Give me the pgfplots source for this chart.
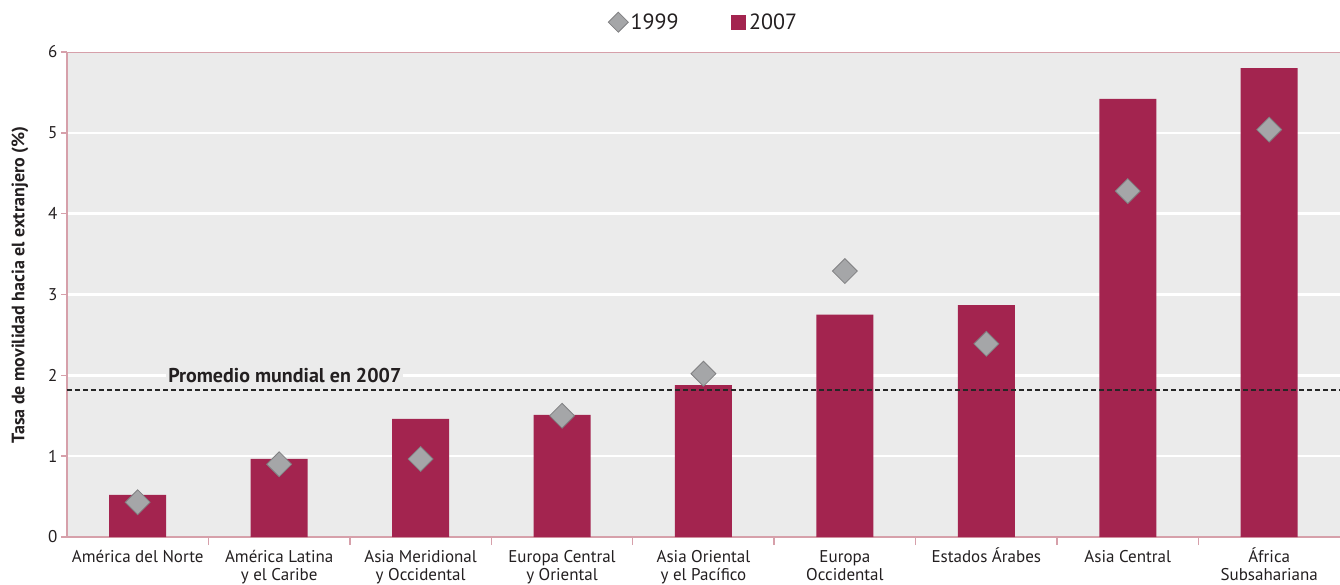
\documentclass[border=0pt]{standalone}
\usepackage{pgfplots}
\pgfplotsset{compat=1.18}
\usepackage{fontspec}
\setmainfont{PT Sans}
\definecolor{barc}{RGB}{163,36,79}
\definecolor{diam}{RGB}{165,166,168}
\definecolor{diamedge}{RGB}{128,128,130}
\definecolor{bg}{RGB}{235,235,235}
\definecolor{axc}{RGB}{214,160,170}
\definecolor{txt}{RGB}{35,31,32}
\newcommand\ah{\vphantom{\'A}}
\begin{document}
\begin{tikzpicture}
\useasboundingbox (-67pt,-47pt) rectangle (1273pt,537pt);
\begin{axis}[
  at={(0pt,0pt)}, anchor=south west,
  scale only axis, width=1273pt, height=485pt,
  xmin=-0.5, xmax=8.5, ymin=0, ymax=6,
  axis background/.style={fill=bg},
  axis x line*=bottom, axis y line*=left,
  axis line style={axc, line width=2pt},
  ytick={0,...,6},
  ymajorgrids, grid style={white, line width=2.5pt},
  tick align=outside,
  major tick length=6pt, minor tick length=8pt,
  tick style={axc, line width=1.5pt},
  major x tick style={draw=none},
  minor xtick={0.5,1.5,...,7.5},
  xtick={0,...,8},
  xticklabels={\ah Am\'erica del Norte,{\ah Am\'erica Latina\\y el Caribe},{\ah Asia Meridional\\y Occidental},{\ah Europa Central\\y Oriental},{\ah Asia Oriental\\y el Pac\'ifico},{\ah Europa\\Occidental},\ah Estados \'Arabes,\ah Asia Central,{\ah\'Africa\\Subsahariana}},
  xticklabel style={align=center, font=\fontsize{17}{18}\selectfont, text=txt, anchor=north, yshift=-1pt},
  yticklabel style={font=\fontsize{17}{18}\selectfont, text=txt},
  /pgf/number format/assume math mode=true,
  ylabel={\bfseries Tasa de movilidad hacia el extranjero (\%)},
  every axis y label/.style={at={(rel axis cs:0,0.52)}, xshift=-47pt, rotate=90, anchor=center, font=\fontsize{18}{20}\selectfont, text=txt},
  legend columns=2,
  legend style={at={(rel axis cs:0.5,1)}, anchor=south, yshift=19pt, draw=none, fill=none, font=\fontsize{22}{24}\selectfont, text=txt,
    /tikz/every even column/.append style={column sep=50pt}, inner sep=0pt},
]
\addlegendimage{legend image code/.code={\draw[fill=diam, draw=diamedge, line width=0.8pt] (0pt,0pt) -- (10pt,10pt) -- (20pt,0pt) -- (10pt,-10pt) -- cycle;}}
\addlegendentry{1999}
\addlegendimage{legend image code/.code={\fill[barc] (0pt,-7pt) rectangle (14pt,7pt);}}
\addlegendentry{\hspace{2pt}2007}
\addplot[ybar, bar width=57pt, fill=barc, draw=none, forget plot] coordinates {
 (0,0.52) (1,0.965) (2,1.46) (3,1.51) (4,1.88) (5,2.75) (6,2.87) (7,5.42) (8,5.80)};
\addplot[black!85, dash pattern=on 5pt off 3pt, line width=2pt, forget plot] coordinates {(-0.5,1.82) (8.5,1.82)};
\addplot[only marks, mark=square*, mark size=8.8pt, mark options={rotate=45, fill=diam, draw=diamedge, line width=0.8pt}, forget plot] coordinates {
 (0,0.43) (1,0.90) (2,0.965) (3,1.50) (4,2.02) (5,3.29) (6,2.39) (7,4.28) (8,5.04)};
\draw[axc, line width=2pt] (rel axis cs:0,1) -- (rel axis cs:1,1);
\node[fill=bg, inner sep=2pt, font=\bfseries\fontsize{20}{22}\selectfont, text=txt] at (axis cs:1.04,2.0) {Promedio mundial en 2007};
\end{axis}
\end{tikzpicture}
\end{document}
